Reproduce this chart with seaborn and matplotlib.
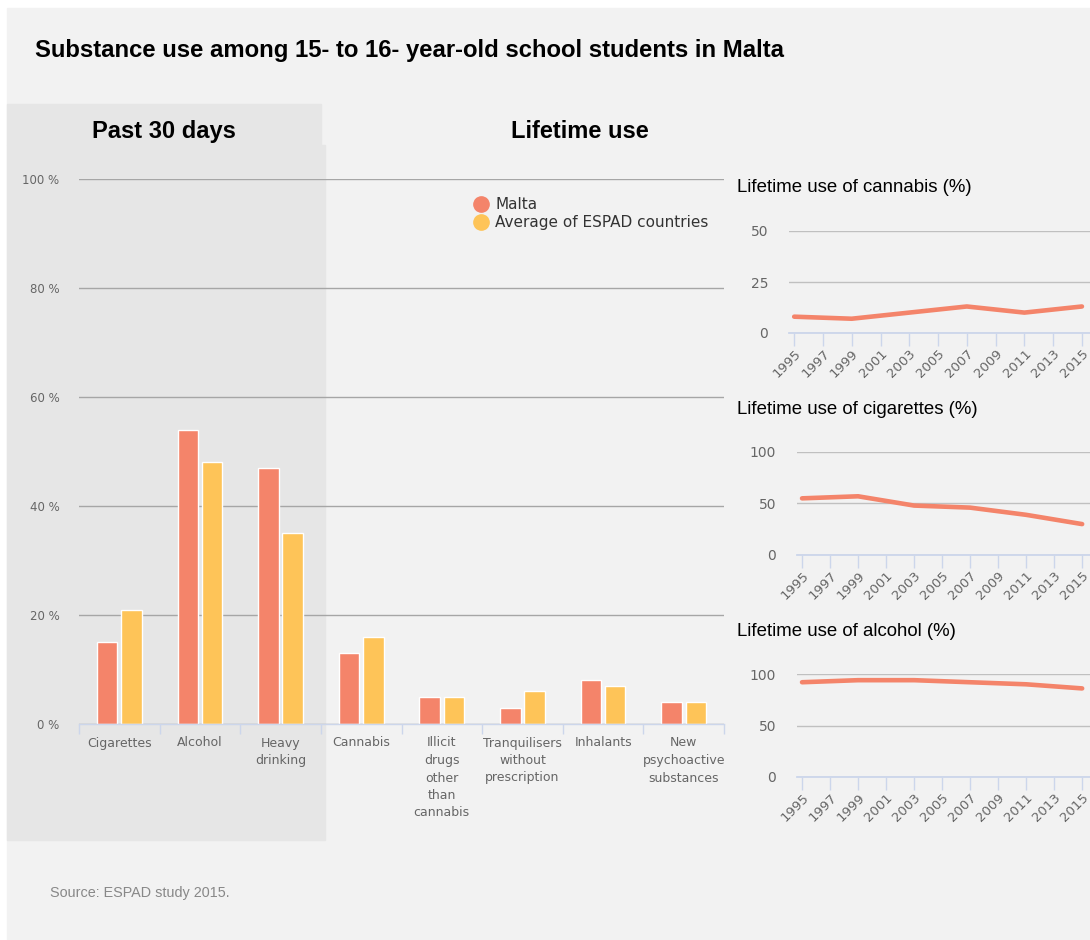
import numpy as np
import pandas as pd
import matplotlib
matplotlib.use("Agg")
import matplotlib.pyplot as plt
from matplotlib.patches import Rectangle
from matplotlib.lines import Line2D
import seaborn as sns

# ---------------- data ----------------
categories = ["Cigarettes", "Alcohol", "Heavy\ndrinking", "Cannabis",
              "Illicit\ndrugs\nother\nthan\ncannabis",
              "Tranquilisers\nwithout\nprescription", "Inhalants",
              "New\npsychoactive\nsubstances"]
malta = [15, 54, 47, 13, 5, 3, 8, 4]
espad = [21, 48, 35, 16, 5, 6, 7, 4]
series_names = ["Malta", "Average of ESPAD countries"]

years = [1995, 1999, 2003, 2007, 2011, 2015]
cannabis_life = [8, 7, 10, 13, 10, 13]
cigarettes_life = [55, 57, 48, 46, 39, 30]
alcohol_life = [92, 94, 94, 92, 90, 86]

bar_yticks = [0, 20, 40, 60, 80, 100]
bar_yticklabels = ["0 %", "20 %", "40 %", "60 %", "80 %", "100 %"]
year_ticks = list(range(1995, 2016, 2))

# ---------------- style ----------------
C_MALTA = "#f4846a"
C_ESPAD = "#fec458"
C_AXIS = "#ccd6eb"
C_TICKTXT = "#666666"
W, H = 1090, 940

plt.rcParams["font.family"] = ["DejaVu Sans"]

fig = plt.figure(figsize=(W / 100, H / 100), dpi=100, facecolor="white")


def fx(px):
    return px / W


def fy(py):
    return 1 - py / H


# background panels
fig.patches.append(Rectangle((fx(7), fy(940)), fx(1090) - fx(7), fy(8) - fy(940),
                             transform=fig.transFigure, color="#f2f2f2", zorder=-10))
fig.patches.append(Rectangle((fx(7), fy(840)), fx(325) - fx(7), fy(145) - fy(840),
                             transform=fig.transFigure, color="#e6e6e6", zorder=-9))
fig.patches.append(Rectangle((fx(7), fy(145)), fx(321) - fx(7), fy(104) - fy(145),
                             transform=fig.transFigure, color="#e6e6e6", zorder=-9))

# texts
fig.text(fx(35), fy(50), "Substance use among 15- to 16- year-old school students in Malta",
         fontsize=17.2, fontweight="bold", family="Liberation Sans", va="center", ha="left")
fig.text(fx(164), fy(131), "Past 30 days", fontsize=17, fontweight="bold",
         family="Liberation Sans", va="center", ha="center")
fig.text(fx(580), fy(131), "Lifetime use", fontsize=17, fontweight="bold",
         family="Liberation Sans", va="center", ha="center")
fig.text(fx(50), fy(893), "Source: ESPAD study 2015.", fontsize=10.4,
         family="Liberation Sans", color="#888888", va="center", ha="left")

# ---------------- bar chart ----------------
df = pd.DataFrame({
    "category": categories * 2,
    "value": malta + espad,
    "series": [series_names[0]] * len(categories) + [series_names[1]] * len(categories),
})

ax = fig.add_axes([fx(79), fy(724), fx(724) - fx(79), fy(179) - fy(724)])
ax.set_facecolor("none")
sns.barplot(data=df, x="category", y="value", hue="series", hue_order=series_names,
            palette=[C_MALTA, C_ESPAD], saturation=1, width=0.6, gap=0.15,
            edgecolor="white", linewidth=1, legend=False, ax=ax, zorder=3)
ax.set_xlim(-0.5, len(categories) - 0.5)
ax.set_ylim(0, 100)
ax.set_yticks(bar_yticks)
ax.set_yticklabels(bar_yticklabels)
ax.set_xlabel("")
ax.set_ylabel("")
for s in ["top", "right", "left"]:
    ax.spines[s].set_visible(False)
ax.spines["bottom"].set_color(C_AXIS)
ax.spines["bottom"].set_linewidth(1)
ax.spines["bottom"].set_zorder(4)
ax.yaxis.grid(True, color="#a6a6a6", linewidth=1)
ax.set_axisbelow(True)
ax.tick_params(axis="y", length=0, pad=14, labelsize=8.5, labelcolor=C_TICKTXT)
ax.tick_params(axis="x", which="major", length=0, pad=9, labelsize=9, labelcolor=C_TICKTXT)
ax.set_xticks(np.arange(-0.5, len(categories), 1), minor=True)
ax.tick_params(axis="x", which="minor", length=7, color=C_AXIS, width=1)
for t in ax.get_xticklabels():
    t.set_linespacing(1.45)
    t.set_va("top")

handles = [Line2D([], [], marker="o", linestyle="", markersize=11,
                  markerfacecolor=c, markeredgecolor=c) for c in (C_MALTA, C_ESPAD)]
fig.legend(handles, series_names, loc="upper left", bbox_to_anchor=(fx(473), fy(197)),
           frameon=False, fontsize=11, labelcolor="#333333", handlelength=1.0,
           handletextpad=0.45, labelspacing=0.2, borderpad=0, borderaxespad=0)

# ---------------- small line charts ----------------
panels = [
    ("Lifetime use of cannabis (%)", cannabis_life, [0, 25, 50], 50, 789, 333, 231, 187),
    ("Lifetime use of cigarettes (%)", cigarettes_life, [0, 50, 100], 100, 797, 555, 452, 409),
    ("Lifetime use of alcohol (%)", alcohol_life, [0, 50, 100], 100, 797, 777, 674, 631),
]
for title, vals, yt, ymax, left, bot, top, ty in panels:
    a = fig.add_axes([fx(left), fy(bot), fx(1090) - fx(left), fy(top) - fy(bot)])
    a.set_facecolor("none")
    sns.lineplot(x=years, y=vals, ax=a, color=C_MALTA, linewidth=3.3, zorder=3)
    for ln in a.get_lines():
        ln.set_solid_capstyle("round")
        ln.set_solid_joinstyle("round")
    a.set_xlim(1994.64, 2015.56)
    a.set_ylim(0, ymax)
    a.set_yticks(yt)
    a.set_xticks(year_ticks)
    a.set_xticklabels([str(y) for y in year_ticks], rotation=45, ha="right",
                      rotation_mode="anchor")
    for s in ["top", "right", "left"]:
        a.spines[s].set_visible(False)
    a.spines["bottom"].set_color(C_AXIS)
    a.spines["bottom"].set_linewidth(1.3)
    a.yaxis.grid(True, color="#c0c0c0", linewidth=1)
    a.set_axisbelow(True)
    a.tick_params(axis="y", length=0, pad=15, labelsize=10, labelcolor=C_TICKTXT)
    a.tick_params(axis="x", length=9, width=1, color=C_AXIS, pad=1, labelsize=9.5,
                  labelcolor=C_TICKTXT)
    a.set_xlabel("")
    a.set_ylabel("")
    fig.text(fx(737), fy(ty), title, fontsize=13.4, family="Liberation Sans",
             va="center", ha="left", color="black")

fig.savefig("out.png", dpi=100, facecolor=fig.get_facecolor())
